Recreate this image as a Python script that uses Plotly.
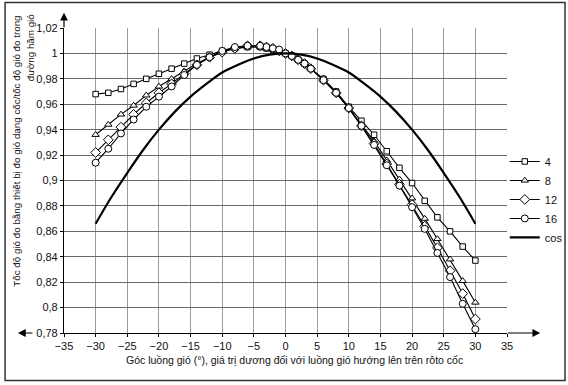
import plotly.graph_objects as go

# ---------------- data ----------------
angles = [-30, -28, -26, -24, -22, -20, -18, -16, -14, -12, -10, -8, -6, -4,
          -3, -2, -1, 0, 1, 2, 3,
          4, 6, 8, 10, 12, 14, 16, 18, 20, 22, 24, 26, 28, 30]

s4 = [0.968, 0.969, 0.972, 0.976, 0.980, 0.984, 0.988, 0.992, 0.996, 0.999, 1.002, 1.004, 1.005, 1.005,
      1.004, 1.003, 1.002, 1.000, 0.998, 0.995, 0.992,
      0.988, 0.980, 0.970, 0.958, 0.947, 0.936, 0.923, 0.910, 0.898, 0.884, 0.871, 0.860, 0.848, 0.837]

s8 = [0.936, 0.944, 0.952, 0.959, 0.967, 0.974, 0.980, 0.986, 0.992, 0.997, 1.001, 1.004, 1.005, 1.005,
      1.004, 1.003, 1.002, 1.000, 0.998, 0.995, 0.992,
      0.988, 0.979, 0.969, 0.957, 0.944, 0.931, 0.916, 0.901, 0.886, 0.870, 0.854, 0.838, 0.821, 0.804]

s12 = [0.922, 0.932, 0.942, 0.952, 0.961, 0.969, 0.976, 0.984, 0.991, 0.997, 1.001, 1.004, 1.006, 1.006,
       1.005, 1.004, 1.002, 1.000, 0.998, 0.995, 0.992,
       0.988, 0.979, 0.969, 0.957, 0.943, 0.929, 0.913, 0.897, 0.881, 0.864, 0.847, 0.829, 0.811, 0.791]

s16 = [0.914, 0.925, 0.937, 0.948, 0.958, 0.966, 0.974, 0.983, 0.991, 0.997, 1.002, 1.005, 1.006, 1.006,
       1.005, 1.004, 1.003, 1.000, 0.998, 0.995, 0.992,
       0.988, 0.979, 0.969, 0.957, 0.943, 0.928, 0.912, 0.896, 0.879, 0.862, 0.843, 0.824, 0.803, 0.783]

cos_angles = [-30, -27.5, -25, -22.5, -20, -17.5, -15, -12.5, -10, -7.5, -5, -2.5, 0,
              2.5, 5, 7.5, 10, 12.5, 15, 17.5, 20, 22.5, 25, 27.5, 30]
cos_vals = [0.866, 0.887, 0.906, 0.924, 0.940, 0.954, 0.966, 0.976, 0.985, 0.991, 0.996, 0.999, 1.000,
            0.999, 0.996, 0.991, 0.985, 0.976, 0.966, 0.954, 0.940, 0.924, 0.906, 0.887, 0.866]

series_names = ["4", "8", "12", "16"]
x_ticks = [-35, -30, -25, -20, -15, -10, -5, 0, 5, 10, 15, 20, 25, 30, 35]
y_ticks = [0.78, 0.80, 0.82, 0.84, 0.86, 0.88, 0.90, 0.92, 0.94, 0.96, 0.98, 1.00, 1.02]
y_tick_text = ["0,78", "0,8", "0,82", "0,84", "0,86", "0,88", "0,9", "0,92", "0,94", "0,96", "0,98", "1", "1,02"]

x_title = "Góc luồng gió (°), giá trị dương đối với luồng gió hướng lên trên rôto cốc"
y_title_1 = "Tốc độ gió đo bằng thiết bị đo gió dạng cốc/tốc độ gió đo trong"
y_title_2 = "đường hầm gió"

# ---------------- figure ----------------
FONT = "Arial, Liberation Sans, sans-serif"
fig = go.Figure()

styles = [("square", 5.5), ("triangle-up", 6.5), ("diamond", 7.5), ("circle", 7)]
for name, vals, (sym, sz) in zip(series_names, [s4, s8, s12, s16], styles):
    fig.add_trace(go.Scatter(
        x=angles, y=vals, name=name, mode="lines+markers",
        line=dict(color="black", width=1.1),
        marker=dict(symbol=sym, size=sz, color="white", line=dict(color="black", width=1)),
    ))

fig.add_trace(go.Scatter(
    x=cos_angles, y=cos_vals, name="cos", mode="lines",
    line=dict(color="black", width=2.2, shape="spline"),
))

fig.update_layout(
    width=568, height=385,
    margin=dict(l=64, r=61, t=28, b=52, autoexpand=False),
    paper_bgcolor="white", plot_bgcolor="white",
    font=dict(family=FONT, size=11, color="#111"),
    showlegend=True,
    legend=dict(x=0.995, xanchor="left", y=0.61, yanchor="top",
                font=dict(family=FONT, size=11, color="#111"),
                itemwidth=30, bgcolor="rgba(0,0,0,0)", tracegroupgap=0),
)

fig.update_xaxes(
    range=[-35, 35], tickvals=x_ticks, showgrid=True, gridcolor="#9a9a9a", gridwidth=1,
    showline=True, linecolor="black", linewidth=1.2, zeroline=False, automargin=False,
    ticks="outside", ticklen=3, tickcolor="black",
    tickfont=dict(family=FONT, size=11, color="#111"),
)
fig.update_yaxes(
    range=[0.78, 1.02], tickvals=y_ticks, ticktext=y_tick_text, showgrid=True,
    gridcolor="#6a6a6a", gridwidth=1, automargin=False,
    showline=True, linecolor="black", linewidth=1.2, zeroline=False,
    ticks="outside", ticklen=3, tickcolor="black",
    tickfont=dict(family=FONT, size=11, color="#111"),
)

# axis titles as annotations
fig.add_annotation(text=x_title, xref="paper", yref="paper", x=0.52, y=-0.088,
                   showarrow=False, xanchor="center", yanchor="middle",
                   font=dict(family=FONT, size=10.5, color="#111"))
fig.add_annotation(text=y_title_1, xref="paper", yref="paper", x=-0.108, y=0.595,
                   showarrow=False, textangle=-90, xanchor="center", yanchor="middle",
                   font=dict(family=FONT, size=9.8, color="#111"))
fig.add_annotation(text=y_title_2, xref="paper", yref="paper", x=-0.076, y=0.935,
                   showarrow=False, textangle=-90, xanchor="center", yanchor="middle",
                   font=dict(family=FONT, size=9.8, color="#111"))

# axis arrows
fig.add_annotation(text="", xref="paper", yref="paper", x=1.075, y=0, ax=-34, ay=0,
                   showarrow=True, arrowhead=2, arrowsize=1.3, arrowwidth=1.2, arrowcolor="black")
fig.add_annotation(text="", xref="paper", yref="paper", x=0, y=1.05, ax=0, ay=16,
                   showarrow=True, arrowhead=2, arrowsize=1.3, arrowwidth=1.2, arrowcolor="black")
fig.add_annotation(text="", xref="paper", yref="paper", x=-0.104, y=0, ax=16, ay=0,
                   showarrow=True, arrowhead=2, arrowsize=1.3, arrowwidth=1.2, arrowcolor="black")

# outer frame
fig.add_shape(type="rect", xref="paper", yref="paper", x0=-0.133, x1=1.131, y0=-0.156, y1=1.084,
              line=dict(color="#333", width=1.5), layer="below")

fig.write_html("out.html", config={"displayModeBar": False},
               post_script="document.body.style.margin='0';document.body.style.overflow='hidden';")
